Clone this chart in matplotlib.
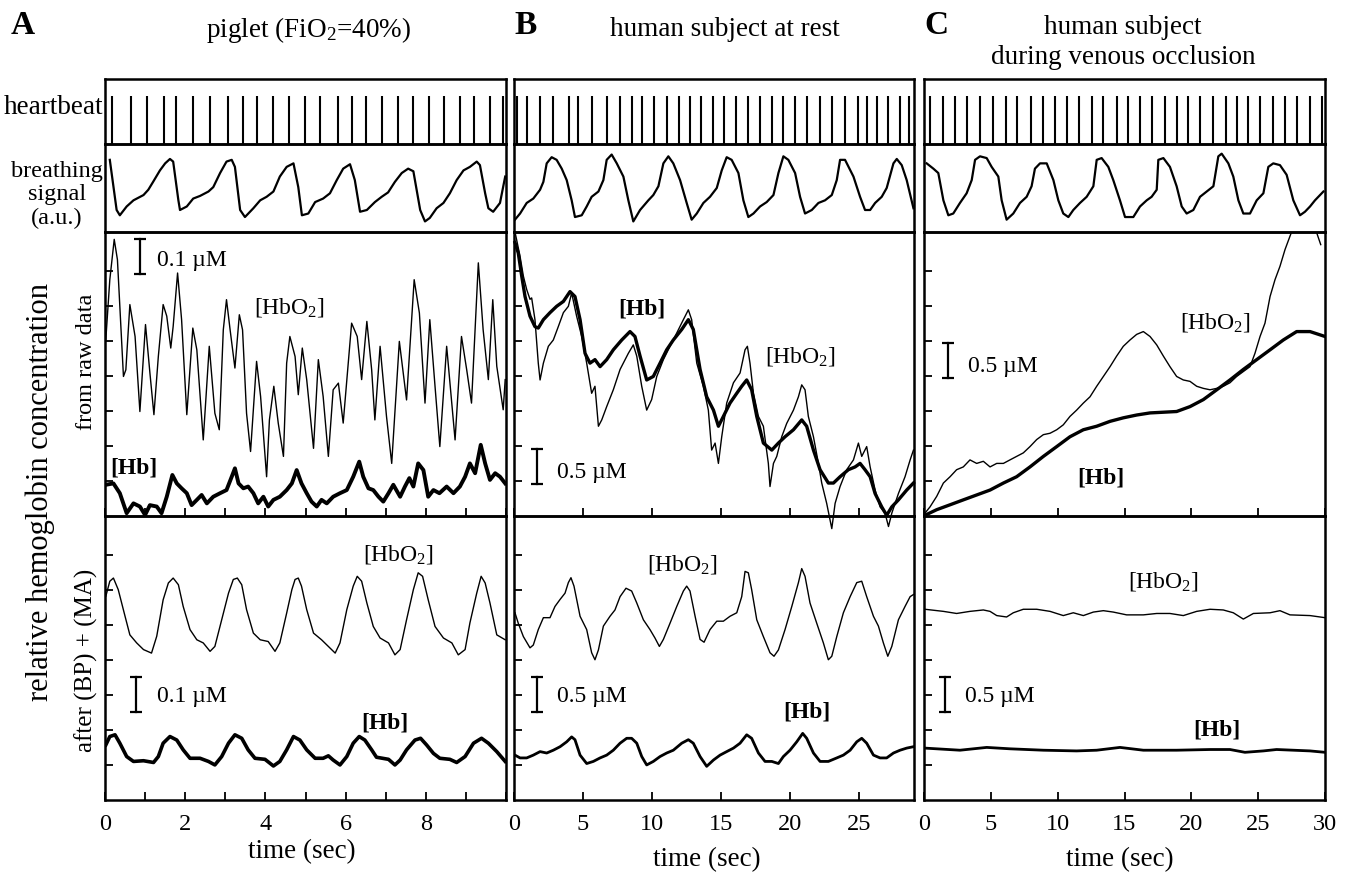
import matplotlib
matplotlib.use("Agg")
import matplotlib.pyplot as plt

plt.rcParams["font.family"] = ["Liberation Serif", "DejaVu Serif"]
plt.rcParams["mathtext.fontset"] = "custom"
plt.rcParams["mathtext.rm"] = "Liberation Serif"
plt.rcParams["mathtext.it"] = "Liberation Serif:italic"
plt.rcParams["mathtext.bf"] = "Liberation Serif:bold"

# ---------------- data (time in sec, concentrations in uM, breathing in a.u.) ----------------
# column A: piglet
a_beats = [0.18, 0.65, 1.04, 1.48, 1.76, 2.19, 2.61, 3.06, 3.44, 3.78, 4.18, 4.58, 4.99,
           5.36, 5.82, 6.17, 6.51, 6.91, 7.30, 7.69, 8.08, 8.46, 8.85, 9.21, 9.61, 9.93]
a_breath_t = [0.12, 0.29, 0.37, 0.54, 0.71, 0.96, 1.08, 1.20, 1.37, 1.50, 1.62, 1.70, 1.83, 1.87,
              2.04, 2.20, 2.37, 2.58, 2.70, 2.87, 3.03, 3.16, 3.24, 3.37, 3.49, 3.70, 3.87, 4.03,
              4.20, 4.36, 4.53, 4.70, 4.82, 4.91, 5.07, 5.24, 5.44, 5.61, 5.78, 5.94, 6.11, 6.23,
              6.36, 6.53, 6.73, 6.90, 7.06, 7.23, 7.40, 7.56, 7.69, 7.86, 7.98, 8.10, 8.27, 8.44,
              8.60, 8.77, 8.94, 9.10, 9.27, 9.35, 9.48, 9.56, 9.68, 9.85, 9.98]
a_breath_v = [0.82, 0.25, 0.19, 0.29, 0.36, 0.42, 0.48, 0.57, 0.70, 0.78, 0.83, 0.80, 0.36, 0.25,
              0.29, 0.38, 0.41, 0.46, 0.51, 0.67, 0.80, 0.82, 0.74, 0.25, 0.17, 0.27, 0.36, 0.40,
              0.46, 0.63, 0.74, 0.78, 0.51, 0.19, 0.21, 0.34, 0.38, 0.44, 0.59, 0.72, 0.77, 0.59,
              0.23, 0.25, 0.34, 0.40, 0.45, 0.57, 0.67, 0.72, 0.69, 0.25, 0.12, 0.16, 0.27, 0.33,
              0.44, 0.59, 0.70, 0.74, 0.80, 0.76, 0.44, 0.27, 0.23, 0.33, 0.63]
a_raw_hbo2_t = [0.02, 0.12, 0.23, 0.31, 0.46, 0.52, 0.62, 0.75, 0.87, 1.01, 1.12, 1.22, 1.33, 1.45,
                1.54, 1.64, 1.70, 1.81, 1.91, 2.04, 2.19, 2.29, 2.45, 2.60, 2.74, 2.85, 2.95, 3.03,
                3.12, 3.24, 3.35, 3.43, 3.53, 3.63, 3.78, 3.88, 4.03, 4.10, 4.21, 4.32, 4.45, 4.53,
                4.61, 4.74, 4.82, 4.92, 5.03, 5.20, 5.32, 5.44, 5.57, 5.69, 5.82, 5.94, 6.15, 6.29,
                6.40, 6.53, 6.65, 6.73, 6.86, 7.02, 7.15, 7.34, 7.52, 7.71, 7.84, 7.98, 8.10, 8.23,
                8.35, 8.52, 8.73, 8.89, 9.02, 9.14, 9.31, 9.43, 9.56, 9.67, 9.77, 9.93, 9.98]
a_raw_hbo2_v = [0.503, 0.674, 0.789, 0.731, 0.398, 0.417, 0.603, 0.512, 0.298, 0.546, 0.408, 0.289,
                0.455, 0.603, 0.570, 0.479, 0.541, 0.693, 0.560, 0.289, 0.536, 0.474, 0.217, 0.484,
                0.293, 0.246, 0.531, 0.617, 0.531, 0.422, 0.574, 0.531, 0.293, 0.184, 0.441, 0.341,
                0.112, 0.274, 0.370, 0.265, 0.170, 0.436, 0.512, 0.455, 0.346, 0.479, 0.389, 0.193,
                0.446, 0.341, 0.170, 0.360, 0.379, 0.265, 0.550, 0.512, 0.389, 0.555, 0.417, 0.274,
                0.484, 0.284, 0.150, 0.498, 0.331, 0.674, 0.579, 0.322, 0.560, 0.370, 0.198, 0.484,
                0.217, 0.512, 0.417, 0.322, 0.722, 0.531, 0.389, 0.617, 0.427, 0.303, 0.389]
a_raw_hb_t = [0.02, 0.21, 0.37, 0.54, 0.71, 0.87, 1.00, 1.12, 1.29, 1.41, 1.54, 1.68, 1.79, 1.91,
              2.04, 2.16, 2.29, 2.41, 2.54, 2.70, 2.87, 3.03, 3.16, 3.24, 3.33, 3.45, 3.57, 3.70,
              3.82, 3.95, 4.07, 4.20, 4.36, 4.53, 4.66, 4.78, 4.90, 5.03, 5.15, 5.28, 5.40, 5.53,
              5.69, 5.86, 6.03, 6.19, 6.34, 6.44, 6.57, 6.69, 6.82, 6.94, 7.07, 7.19, 7.36, 7.48,
              7.59, 7.69, 7.81, 7.94, 8.06, 8.19, 8.34, 8.52, 8.69, 8.85, 8.98, 9.10, 9.23, 9.37,
              9.48, 9.60, 9.73, 9.85, 9.98]
a_raw_hb_v = [0.089, 0.093, 0.065, 0.008, 0.036, 0.027, 0.003, 0.031, 0.027, 0.008, 0.055, 0.117,
              0.093, 0.079, 0.065, 0.031, 0.046, 0.060, 0.036, 0.055, 0.065, 0.074, 0.112, 0.136,
              0.093, 0.079, 0.084, 0.065, 0.036, 0.055, 0.027, 0.046, 0.055, 0.074, 0.093, 0.131,
              0.093, 0.065, 0.041, 0.027, 0.046, 0.036, 0.055, 0.065, 0.074, 0.112, 0.155, 0.112,
              0.079, 0.074, 0.055, 0.041, 0.065, 0.089, 0.055, 0.084, 0.108, 0.084, 0.150, 0.131,
              0.055, 0.074, 0.065, 0.084, 0.065, 0.084, 0.112, 0.150, 0.122, 0.203, 0.150, 0.103,
              0.122, 0.112, 0.093]
a_filt_hbo2_t = [0.02, 0.12, 0.21, 0.33, 0.50, 0.62, 0.79, 0.96, 1.16, 1.29, 1.45, 1.58, 1.70, 1.83,
                 1.95, 2.12, 2.29, 2.45, 2.62, 2.74, 2.91, 3.08, 3.20, 3.30, 3.41, 3.53, 3.70, 3.87,
                 4.07, 4.24, 4.36, 4.53, 4.66, 4.74, 4.82, 4.90, 5.03, 5.20, 5.40, 5.57, 5.74, 5.86,
                 6.03, 6.19, 6.29, 6.40, 6.53, 6.69, 6.86, 7.07, 7.23, 7.36, 7.52, 7.69, 7.81, 7.92,
                 8.06, 8.23, 8.44, 8.65, 8.81, 8.98, 9.10, 9.27, 9.38, 9.48, 9.60, 9.77, 9.98]
a_filt_hbo2_v = [0.581, 0.624, 0.633, 0.600, 0.524, 0.471, 0.448, 0.429, 0.419, 0.467, 0.571, 0.619,
                 0.633, 0.614, 0.552, 0.486, 0.457, 0.448, 0.424, 0.438, 0.514, 0.590, 0.629, 0.633,
                 0.614, 0.543, 0.476, 0.457, 0.452, 0.424, 0.448, 0.533, 0.600, 0.629, 0.633, 0.610,
                 0.543, 0.476, 0.457, 0.438, 0.419, 0.448, 0.543, 0.610, 0.638, 0.624, 0.562, 0.495,
                 0.462, 0.448, 0.414, 0.429, 0.514, 0.600, 0.648, 0.638, 0.571, 0.495, 0.462, 0.448,
                 0.414, 0.429, 0.505, 0.590, 0.638, 0.619, 0.562, 0.471, 0.457]
a_filt_hb_t = [0.02, 0.12, 0.25, 0.37, 0.54, 0.71, 0.96, 1.21, 1.33, 1.45, 1.62, 1.79, 1.95, 2.12,
               2.37, 2.58, 2.74, 2.91, 3.08, 3.24, 3.41, 3.57, 3.74, 3.99, 4.20, 4.36, 4.53, 4.70,
               4.86, 5.03, 5.24, 5.44, 5.57, 5.69, 5.86, 6.03, 6.19, 6.34, 6.48, 6.65, 6.77, 7.07,
               7.23, 7.36, 7.52, 7.73, 7.87, 8.02, 8.19, 8.35, 8.60, 8.77, 8.98, 9.19, 9.39, 9.56,
               9.77, 9.98]
a_filt_hb_v = [0.157, 0.181, 0.186, 0.162, 0.124, 0.110, 0.112, 0.107, 0.124, 0.162, 0.181, 0.171,
               0.143, 0.119, 0.119, 0.110, 0.100, 0.124, 0.162, 0.186, 0.176, 0.143, 0.119, 0.116,
               0.097, 0.110, 0.143, 0.181, 0.171, 0.143, 0.119, 0.119, 0.126, 0.114, 0.100, 0.124,
               0.162, 0.181, 0.171, 0.143, 0.122, 0.116, 0.100, 0.114, 0.143, 0.171, 0.176, 0.157,
               0.133, 0.119, 0.116, 0.107, 0.124, 0.162, 0.176, 0.162, 0.138, 0.110]

# column B: human subject at rest
b_beats = [0.20, 0.92, 1.89, 2.83, 3.99, 4.64, 5.66, 6.72, 7.69, 8.56, 9.26, 10.15, 11.07, 11.96,
           12.76, 13.56, 14.43, 15.23, 16.08, 16.95, 17.84, 18.69, 19.51, 20.38, 21.25, 22.19,
           23.04, 24.00, 24.95, 25.58, 26.30, 27.10, 27.99, 28.67]
b_breath_t = [0.07, 0.44, 0.92, 1.40, 1.89, 2.13, 2.37, 2.73, 3.09, 3.46, 3.82, 4.18, 4.42, 4.91,
              5.27, 5.63, 6.12, 6.48, 6.72, 7.08, 7.45, 7.93, 8.29, 8.65, 9.14, 9.74, 10.10, 10.47,
              10.83, 11.19, 11.55, 12.04, 12.52, 12.88, 13.25, 13.73, 14.21, 14.70, 15.06, 15.42,
              15.78, 16.27, 16.63, 16.99, 17.36, 17.84, 18.32, 18.81, 19.17, 19.53, 19.89, 20.38,
              20.74, 21.10, 21.59, 22.07, 22.55, 23.04, 23.40, 23.64, 24.00, 24.61, 25.09, 25.45,
              25.82, 26.18, 26.66, 27.02, 27.51, 27.75, 28.11, 28.47, 28.96]
b_breath_v = [0.14, 0.21, 0.33, 0.38, 0.48, 0.57, 0.78, 0.85, 0.82, 0.72, 0.59, 0.36, 0.17, 0.19,
              0.29, 0.40, 0.46, 0.59, 0.82, 0.88, 0.78, 0.63, 0.36, 0.12, 0.25, 0.36, 0.42, 0.52,
              0.78, 0.86, 0.78, 0.59, 0.33, 0.14, 0.21, 0.33, 0.40, 0.50, 0.70, 0.85, 0.82, 0.67,
              0.36, 0.17, 0.21, 0.29, 0.34, 0.42, 0.67, 0.86, 0.82, 0.67, 0.40, 0.21, 0.25, 0.33,
              0.36, 0.42, 0.59, 0.82, 0.82, 0.63, 0.40, 0.25, 0.25, 0.33, 0.40, 0.50, 0.78, 0.83,
              0.76, 0.59, 0.27]
b_raw_hbo2_t = [0.07, 0.19, 0.44, 0.68, 0.92, 1.16, 1.28, 1.52, 1.76, 1.89, 2.13, 2.49, 2.85, 3.21,
                3.58, 3.94, 4.18, 4.54, 4.91, 5.27, 5.63, 5.87, 6.12, 6.36, 6.72, 7.20, 7.69, 8.29,
                8.65, 8.90, 9.26, 9.62, 9.98, 10.35, 10.83, 11.31, 11.80, 12.28, 12.64, 12.88,
                13.25, 13.73, 14.09, 14.33, 14.58, 14.82, 15.06, 15.42, 15.91, 16.39, 16.75, 16.92,
                17.11, 17.36, 17.72, 18.08, 18.44, 18.56, 18.81, 19.05, 19.41, 19.77, 20.26, 20.62,
                20.86, 21.10, 21.34, 21.71, 22.07, 22.31, 22.67, 23.04, 23.28, 23.64, 24.12, 24.61,
                24.97, 25.21, 25.57, 25.82, 26.18, 26.54, 26.90, 27.15, 27.39, 27.87, 28.35, 28.72,
                28.96]
b_raw_hbo2_v = [4.05, 3.94, 3.70, 3.42, 3.23, 3.09, 3.11, 2.80, 2.18, 1.94, 2.18, 2.42, 2.51, 2.70,
                2.90, 2.99, 3.18, 2.85, 2.56, 2.18, 1.75, 1.85, 1.28, 1.37, 1.56, 1.80, 2.09, 2.32,
                2.44, 2.28, 1.85, 1.51, 1.66, 1.99, 2.23, 2.42, 2.61, 2.80, 2.94, 2.80, 2.18, 1.85,
                1.51, 0.94, 1.04, 0.75, 1.13, 1.61, 1.90, 2.04, 2.37, 2.42, 2.18, 1.75, 1.42, 1.28,
                0.75, 0.42, 0.75, 0.85, 1.13, 1.32, 1.51, 1.70, 1.87, 1.80, 1.42, 1.13, 0.75, 0.47,
                0.18, -0.18, 0.18, 0.42, 0.66, 0.80, 1.04, 0.85, 0.99, 0.70, 0.37, 0.13, 0.04,
                -0.15, 0.04, 0.32, 0.56, 0.80, 0.94]
b_raw_hb_t = [0.07, 0.31, 0.56, 0.80, 1.16, 1.52, 1.76, 2.13, 2.61, 3.09, 3.58, 4.06, 4.42, 4.79,
              5.15, 5.51, 5.87, 6.24, 6.72, 7.20, 7.81, 8.41, 8.77, 9.14, 9.62, 10.10, 10.59, 11.07,
              11.55, 12.16, 12.64, 13.00, 13.49, 13.97, 14.46, 14.82, 15.18, 15.66, 16.15, 16.51,
              16.87, 17.23, 17.60, 18.08, 18.69, 19.17, 19.65, 20.26, 20.86, 21.22, 21.71, 22.19,
              22.79, 23.16, 23.64, 24.24, 24.73, 25.09, 25.45, 25.82, 26.18, 26.66, 27.02, 27.39,
              27.87, 28.47, 28.96]
b_raw_hb_v = [3.90, 3.75, 3.42, 3.13, 2.85, 2.70, 2.68, 2.80, 2.90, 2.99, 3.06, 3.20, 3.13, 2.80,
              2.32, 2.18, 2.23, 2.13, 2.23, 2.37, 2.51, 2.63, 2.56, 2.28, 1.94, 1.99, 2.18, 2.37,
              2.51, 2.66, 2.80, 2.66, 2.09, 1.70, 1.51, 1.28, 1.42, 1.61, 1.75, 1.85, 1.94, 1.80,
              1.42, 1.04, 0.94, 1.04, 1.13, 1.23, 1.37, 1.28, 0.94, 0.66, 0.47, 0.47, 0.56, 0.66,
              0.70, 0.75, 0.66, 0.56, 0.32, 0.13, 0.01, 0.13, 0.23, 0.37, 0.47]
b_filt_hbo2_t = [0.07, 0.31, 0.68, 1.16, 1.40, 1.76, 2.13, 2.61, 2.97, 3.34, 3.70, 3.94, 4.13, 4.35,
                 4.79, 5.27, 5.63, 5.87, 6.12, 6.48, 6.96, 7.32, 7.69, 8.12, 8.53, 8.90, 9.38, 9.86,
                 10.22, 10.54, 10.83, 11.31, 11.80, 12.28, 12.52, 12.76, 13.13, 13.49, 13.78, 14.21,
                 14.70, 15.18, 15.66, 16.15, 16.51, 16.75, 16.99, 17.23, 17.60, 18.08, 18.56, 18.85,
                 19.17, 19.65, 20.14, 20.62, 20.86, 21.10, 21.46, 21.95, 22.43, 22.79, 23.04, 23.40,
                 23.88, 24.37, 24.85, 25.21, 25.57, 26.06, 26.42, 26.78, 27.10, 27.39, 27.87, 28.35,
                 28.72, 28.96]
b_filt_hbo2_v = [2.67, 2.52, 2.33, 2.17, 2.21, 2.43, 2.60, 2.60, 2.76, 2.86, 2.95, 3.10, 3.17, 3.05,
                 2.62, 2.43, 2.10, 2.00, 2.14, 2.48, 2.62, 2.71, 2.90, 3.02, 2.98, 2.81, 2.57, 2.43,
                 2.31, 2.19, 2.29, 2.52, 2.76, 2.98, 3.05, 2.98, 2.62, 2.29, 2.25, 2.43, 2.55, 2.55,
                 2.62, 2.67, 2.90, 3.26, 3.24, 3.00, 2.57, 2.33, 2.10, 2.05, 2.14, 2.43, 2.76, 3.10,
                 3.30, 3.19, 2.81, 2.52, 2.24, 2.00, 2.05, 2.33, 2.67, 2.90, 3.10, 3.12, 2.90, 2.62,
                 2.48, 2.24, 2.05, 2.19, 2.57, 2.76, 2.90, 2.93]
b_filt_hb_t = [0.07, 0.44, 0.92, 1.40, 1.89, 2.37, 2.85, 3.34, 3.82, 4.18, 4.42, 4.79, 5.27, 5.75,
               6.24, 6.72, 7.20, 7.69, 8.17, 8.53, 8.90, 9.26, 9.62, 10.10, 10.59, 11.07, 11.55,
               12.16, 12.64, 13.00, 13.49, 13.97, 14.46, 14.94, 15.42, 15.91, 16.39, 16.87, 17.23,
               17.72, 18.20, 18.69, 19.17, 19.53, 20.01, 20.50, 20.93, 21.22, 21.71, 22.19, 22.79,
               23.40, 23.88, 24.37, 24.85, 25.21, 25.57, 26.06, 26.54, 27.02, 27.51, 27.99, 28.47,
               28.96]
b_filt_hb_v = [0.64, 0.60, 0.60, 0.64, 0.69, 0.67, 0.71, 0.76, 0.83, 0.90, 0.86, 0.64, 0.52, 0.55,
               0.60, 0.64, 0.71, 0.81, 0.88, 0.88, 0.81, 0.62, 0.50, 0.55, 0.62, 0.67, 0.71, 0.81,
               0.86, 0.81, 0.62, 0.48, 0.57, 0.64, 0.69, 0.74, 0.81, 0.93, 0.88, 0.67, 0.55, 0.55,
               0.52, 0.62, 0.71, 0.83, 0.95, 0.88, 0.67, 0.55, 0.55, 0.60, 0.64, 0.71, 0.83, 0.88,
               0.81, 0.64, 0.60, 0.60, 0.67, 0.71, 0.74, 0.76]

# column C: human subject during venous occlusion
c_beats = [0.45, 1.44, 2.32, 3.19, 4.19, 5.18, 6.13, 6.98, 8.00, 8.92, 9.80, 10.67, 11.59, 12.54,
           13.41, 14.41, 15.28, 16.16, 17.08, 18.03, 18.90, 19.77, 20.64, 21.64, 22.59, 23.39,
           24.21, 25.13, 26.13, 27.00, 27.88, 28.87, 29.75]
c_breath_t = [0.20, 0.70, 1.07, 1.45, 1.82, 2.19, 2.69, 3.19, 3.57, 3.82, 4.19, 4.69, 5.06, 5.56,
              5.81, 6.18, 6.68, 7.18, 7.68, 8.05, 8.30, 8.68, 9.18, 9.68, 10.05, 10.42, 10.80,
              11.17, 11.67, 12.17, 12.67, 12.92, 13.29, 13.79, 14.16, 14.66, 15.04, 15.66, 16.16,
              16.66, 17.03, 17.41, 17.53, 17.91, 18.40, 18.90, 19.28, 19.65, 20.15, 20.65, 21.15,
              21.65, 22.02, 22.27, 22.77, 23.14, 23.52, 23.89, 24.39, 24.89, 25.39, 25.76, 26.13,
              26.63, 27.13, 27.63, 28.13, 28.50, 28.88, 29.25, 29.88]
c_breath_v = [0.78, 0.72, 0.67, 0.36, 0.19, 0.21, 0.33, 0.44, 0.59, 0.82, 0.86, 0.84, 0.74, 0.63,
              0.36, 0.14, 0.21, 0.33, 0.40, 0.52, 0.72, 0.78, 0.78, 0.59, 0.36, 0.21, 0.17, 0.25,
              0.33, 0.40, 0.52, 0.82, 0.84, 0.74, 0.59, 0.36, 0.17, 0.17, 0.29, 0.36, 0.40, 0.48,
              0.82, 0.84, 0.74, 0.52, 0.29, 0.21, 0.25, 0.40, 0.46, 0.52, 0.86, 0.89, 0.78, 0.63,
              0.36, 0.21, 0.21, 0.36, 0.44, 0.74, 0.78, 0.76, 0.65, 0.36, 0.19, 0.23, 0.29, 0.36,
              0.46]
c_raw_hbo2_t = [0.07, 0.45, 0.95, 1.45, 1.95, 2.44, 2.94, 3.44, 3.94, 4.44, 4.94, 5.44, 5.94, 6.43,
                6.93, 7.43, 7.93, 8.43, 8.93, 9.43, 9.93, 10.42, 10.92, 11.42, 11.92, 12.42, 12.92,
                13.42, 13.92, 14.41, 14.91, 15.41, 15.91, 16.41, 16.91, 17.41, 17.91, 18.40, 18.90,
                19.40, 19.90, 20.40, 20.90, 21.40, 21.90, 22.39, 22.89, 23.39, 23.89, 24.39, 24.76,
                25.14, 25.51, 25.89, 26.26, 26.63, 27.01, 27.38, 27.58, 28.50, 29.43, 29.68]
c_raw_hbo2_v = [0.04, 0.13, 0.28, 0.47, 0.56, 0.66, 0.70, 0.80, 0.75, 0.78, 0.70, 0.75, 0.75, 0.80,
                0.85, 0.90, 0.99, 1.09, 1.16, 1.18, 1.23, 1.30, 1.42, 1.51, 1.61, 1.70, 1.85, 1.99,
                2.13, 2.28, 2.42, 2.51, 2.59, 2.63, 2.56, 2.44, 2.28, 2.13, 1.99, 1.94, 1.92, 1.85,
                1.82, 1.80, 1.82, 1.85, 1.90, 1.99, 2.06, 2.13, 2.32, 2.56, 2.75, 3.13, 3.37, 3.56,
                3.80, 3.99, 4.09, 4.60, 4.01, 3.87]
c_raw_hb_t = [0.07, 0.95, 1.95, 2.94, 3.94, 4.94, 5.94, 6.93, 7.93, 8.93, 9.93, 10.92, 11.92, 12.92,
              13.92, 14.91, 15.91, 16.91, 17.91, 18.90, 19.90, 20.90, 21.90, 22.89, 23.89, 24.89,
              25.89, 26.88, 27.88, 28.88, 30.00]
c_raw_hb_v = [0.01, 0.09, 0.16, 0.23, 0.30, 0.37, 0.47, 0.56, 0.70, 0.85, 0.99, 1.13, 1.23, 1.28,
              1.35, 1.40, 1.44, 1.47, 1.48, 1.49, 1.56, 1.66, 1.80, 1.94, 2.09, 2.23, 2.37, 2.51,
              2.63, 2.63, 2.56]
c_filt_hbo2_t = [0.07, 1.45, 2.44, 3.44, 4.44, 4.94, 5.44, 6.18, 6.68, 7.43, 8.43, 9.43, 10.42,
                 11.17, 11.92, 12.67, 13.42, 14.16, 15.16, 16.41, 17.41, 18.40, 19.40, 20.40, 21.40,
                 22.39, 23.14, 23.89, 24.64, 25.89, 26.63, 27.38, 28.88, 30.00]
c_filt_hbo2_v = [2.72, 2.69, 2.66, 2.69, 2.71, 2.69, 2.63, 2.61, 2.67, 2.72, 2.72, 2.69, 2.63, 2.67,
                 2.63, 2.68, 2.70, 2.68, 2.64, 2.64, 2.66, 2.66, 2.63, 2.69, 2.72, 2.71, 2.67, 2.58,
                 2.66, 2.67, 2.70, 2.64, 2.63, 2.60]
c_filt_hb_t = [0.07, 2.69, 4.69, 6.43, 8.93, 11.42, 12.92, 14.66, 16.41, 18.90, 21.40, 22.89, 24.01,
               25.39, 26.38, 28.88, 30.00]
c_filt_hb_v = [0.74, 0.71, 0.75, 0.73, 0.71, 0.70, 0.71, 0.75, 0.71, 0.71, 0.72, 0.72, 0.68, 0.70,
               0.72, 0.70, 0.68]

# ---------------- figure ----------------
W, H = 1356, 874
fig = plt.figure(figsize=(W / 100, H / 100), dpi=100)


def px_axes(x0, x1, y0, y1):
    ax = fig.add_axes([x0 / W, 1 - y1 / H, (x1 - x0) / W, (y1 - y0) / H])
    ax.set_facecolor("none")
    for s in ax.spines.values():
        s.set_linewidth(1.8)
    return ax


columns = [
    dict(x0=105, x1=506, xlim=(0, 10), xticks=range(0, 11), xlabels=[0, 2, 4, 6, 8], unit=0.1,
         beats=a_beats, br=(a_breath_t, a_breath_v),
         raw=(a_raw_hbo2_t, a_raw_hbo2_v, a_raw_hb_t, a_raw_hb_v),
         filt=(a_filt_hbo2_t, a_filt_hbo2_v, a_filt_hb_t, a_filt_hb_v), raw_clip=True),
    dict(x0=514, x1=914, xlim=(0, 29), xticks=range(0, 30, 5), xlabels=range(0, 30, 5), unit=0.5,
         beats=b_beats, br=(b_breath_t, b_breath_v),
         raw=(b_raw_hbo2_t, b_raw_hbo2_v, b_raw_hb_t, b_raw_hb_v),
         filt=(b_filt_hbo2_t, b_filt_hbo2_v, b_filt_hb_t, b_filt_hb_v), raw_clip=False),
    dict(x0=924, x1=1325, xlim=(0, 30), xticks=range(0, 31, 5), xlabels=range(0, 31, 5), unit=0.5,
         beats=c_beats, br=(c_breath_t, c_breath_v),
         raw=(c_raw_hbo2_t, c_raw_hbo2_v, c_raw_hb_t, c_raw_hb_v),
         filt=(c_filt_hbo2_t, c_filt_hbo2_v, c_filt_hb_t, c_filt_hb_v), raw_clip=True),
]

FS = 17      # in-panel labels
FT = 19.5    # titles and axis titles
axes = []
for col in columns:
    x0, x1 = col["x0"], col["x1"]
    # heartbeat
    ax_hb = px_axes(x0, x1, 79, 144)
    ax_hb.vlines(col["beats"], 0, 0.74, color="black", lw=1.5)
    ax_hb.set_xlim(col["xlim"])
    ax_hb.set_ylim(0, 1)
    ax_hb.set_xticks([])
    ax_hb.set_yticks([])
    # breathing
    ax_br = px_axes(x0, x1, 144, 232)
    ax_br.plot(col["br"][0], col["br"][1], color="black", lw=1.6)
    ax_br.set_xlim(col["xlim"])
    ax_br.set_ylim(0, 1)
    ax_br.set_xticks([])
    ax_br.set_yticks([])

    u = col["unit"]
    # after (BP) + (MA)
    ax_f = px_axes(x0, x1, 516, 800)
    t1, v1, t2, v2 = col["filt"]
    ax_f.plot(t1, v1, color="black", lw=1.0)
    ax_f.plot(t2, v2, color="black", lw=2.6 if u == 0.1 else 2.0)
    # raw data
    ax_r = px_axes(x0, x1, 232, 516)
    t1, v1, t2, v2 = col["raw"]
    ax_r.plot(t1, v1, color="black", lw=1.0, clip_on=col["raw_clip"])
    ax_r.plot(t2, v2, color="black", lw=2.8 if u == 0.1 else 2.4, clip_on=col["raw_clip"])

    for ax in (ax_r, ax_f):
        ax.set_xlim(col["xlim"])
        ax.set_ylim(0, u * 8.1)
        ax.set_yticks([u * k for k in range(1, 8)])
        ax.set_yticklabels([])
        ax.set_xticks(list(col["xticks"]))
        ax.tick_params(direction="in", length=6, width=1.3, top=False, right=False)
    ax_r.set_xticklabels([])
    ax_f.set_xticklabels([str(v) if v in list(col["xlabels"]) else "" for v in col["xticks"]],
                         fontsize=17.5)
    ax_f.tick_params(axis="x", pad=10)
    axes.append((ax_hb, ax_br, ax_r, ax_f))


def scale_bar(ax, t, v0, v1):
    ax.plot([t, t], [v0, v1], color="black", lw=1.6)
    ax.plot([t, t], [v0, v1], ls="none", marker="_", ms=8, mew=1.6, color="black")


HBO2 = r"[HbO$_\mathrm{2}$]"

# column A labels
_, _, ar, af = axes[0]
scale_bar(ar, 0.87, 0.69, 0.79)
ar.text(0.13, 0.90, "0.1 \u00b5M", transform=ar.transAxes, fontsize=FS, va="center")
ar.text(0.46, 0.735, HBO2, transform=ar.transAxes, fontsize=FS, ha="center", va="center")
ar.text(0.012, 0.17, "[Hb]", transform=ar.transAxes, fontsize=FS, fontweight="bold", va="center")
scale_bar(af, 0.77, 0.252, 0.352)
af.text(0.13, 0.364, "0.1 \u00b5M", transform=af.transAxes, fontsize=FS, va="center")
af.text(0.733, 0.866, HBO2, transform=af.transAxes, fontsize=FS, ha="center", va="center")
af.text(0.698, 0.272, "[Hb]", transform=af.transAxes, fontsize=FS, fontweight="bold",
        ha="center", va="center")

# column B labels
_, _, br_, bf = axes[1]
scale_bar(br_, 1.65, 0.46, 0.96)
br_.text(0.107, 0.152, "0.5 \u00b5M", transform=br_.transAxes, fontsize=FS, va="center")
br_.text(0.32, 0.728, "[Hb]", transform=br_.transAxes, fontsize=FS, fontweight="bold",
         ha="center", va="center")
br_.text(0.717, 0.562, HBO2, transform=br_.transAxes, fontsize=FS, ha="center", va="center")
scale_bar(bf, 1.65, 1.26, 1.76)
bf.text(0.107, 0.364, "0.5 \u00b5M", transform=bf.transAxes, fontsize=FS, va="center")
bf.text(0.42, 0.83, HBO2, transform=bf.transAxes, fontsize=FS, ha="center", va="center")
bf.text(0.733, 0.31, "[Hb]", transform=bf.transAxes, fontsize=FS, fontweight="bold",
        ha="center", va="center")

# column C labels
_, _, cr, cf = axes[2]
scale_bar(cr, 1.82, 1.97, 2.47)
cr.text(0.11, 0.528, "0.5 \u00b5M", transform=cr.transAxes, fontsize=FS, va="center")
cr.text(0.728, 0.682, HBO2, transform=cr.transAxes, fontsize=FS, ha="center", va="center")
cr.text(0.44, 0.134, "[Hb]", transform=cr.transAxes, fontsize=FS, fontweight="bold",
        ha="center", va="center")
scale_bar(cf, 1.57, 1.26, 1.76)
cf.text(0.102, 0.364, "0.5 \u00b5M", transform=cf.transAxes, fontsize=FS, va="center")
cf.text(0.596, 0.77, HBO2, transform=cf.transAxes, fontsize=FS, ha="center", va="center")
cf.text(0.73, 0.247, "[Hb]", transform=cf.transAxes, fontsize=FS, fontweight="bold",
        ha="center", va="center")


def ftext(x, y, s, **kw):
    fig.text(x / W, 1 - y / H, s, **kw)


# panel letters and titles
ftext(11, 25, "A", fontsize=24, fontweight="bold", va="center")
ftext(514, 25, "B", fontsize=24, fontweight="bold", va="center")
ftext(924, 25, "C", fontsize=24, fontweight="bold", va="center")
ftext(308, 30, r"piglet (FiO$_\mathrm{2}$=40%)", fontsize=FT, ha="center", va="center")
ftext(725, 30, "human subject at rest", fontsize=FT, ha="center", va="center")
ftext(1123, 27, "human subject", fontsize=FT, ha="center", va="center")
ftext(1123, 57, "during venous occlusion", fontsize=FT, ha="center", va="center")

# left-side labels
ftext(103, 107, "heartbeat", fontsize=FT, ha="right", va="center")
ftext(57, 195, "breathing\nsignal\n(a.u.)", fontsize=17.5, ha="center", va="center",
      linespacing=1.15)
ftext(40, 492, "relative hemoglobin concentration", fontsize=22, rotation=90,
      ha="center", va="center")
ftext(86, 362, "from raw data", fontsize=17.5, rotation=90, ha="center", va="center")
ftext(86, 660, "after (BP) + (MA)", fontsize=18, rotation=90, ha="center", va="center")

# x axis titles
ftext(302, 852, "time (sec)", fontsize=FT, ha="center", va="center")
ftext(707, 860, "time (sec)", fontsize=FT, ha="center", va="center")
ftext(1120, 860, "time (sec)", fontsize=FT, ha="center", va="center")

fig.savefig("out.png", dpi=100)
